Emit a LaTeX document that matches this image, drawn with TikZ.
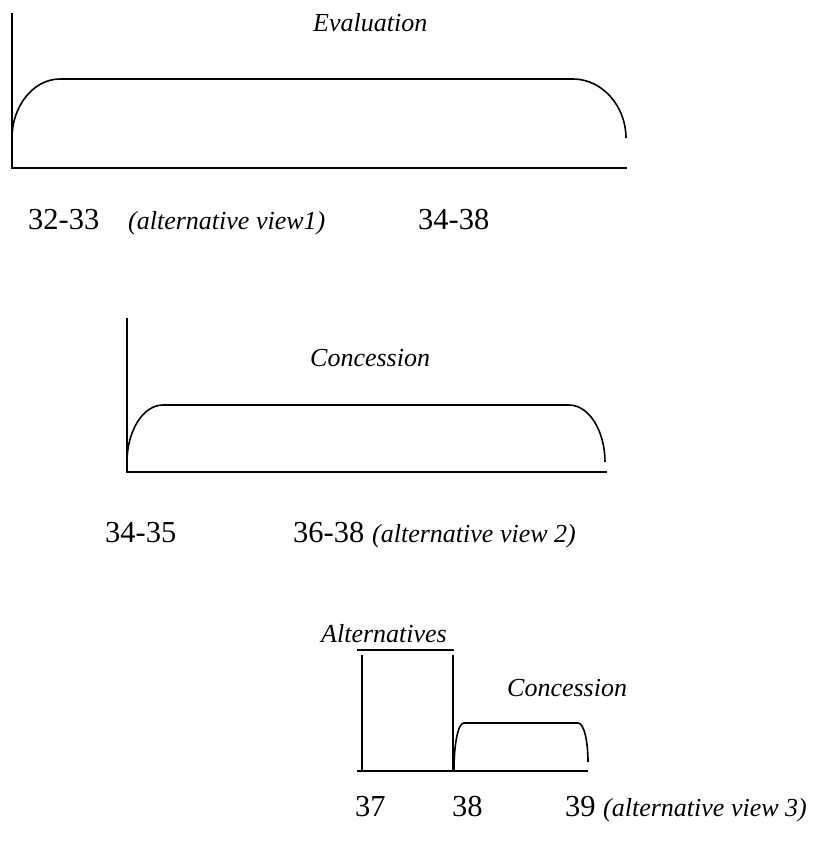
\documentclass[tikz,border=0pt]{standalone}
\usepackage{fontspec}
\setmainfont{Liberation Serif}
\begin{document}
\begin{tikzpicture}[x=1pt,y=-1pt,
  ln/.style={line width=1.6pt},
  num/.style={anchor=base west,inner sep=0pt,font=\fontsize{30.5}{36}\selectfont},
  lbl/.style={anchor=base west,inner sep=0pt,font=\fontsize{26}{30}\selectfont\itshape}]
\useasboundingbox (0,0) rectangle (820,841);
% Diagram 1
\draw[ln] (12,13) -- (12,168) -- (627,168);
\draw[ln] (12,138) .. controls (12,106) and (33.5,79) .. (60,79) -- (573,79)
  .. controls (602,79) and (626,106) .. (626,138);
\node[lbl] (eval) at (313,31) {Evaluation};
\node[num] (n1) at (28,229) {32-33};
\node[lbl] (av1) at (128,229) {(alternative view1)};
\node[num] (n2) at (418,229) {34-38};
% Diagram 2
\draw[ln] (127,318) -- (127,472) -- (607,472);
\draw[ln] (127,462) .. controls (127,431) and (143,405) .. (163,405) -- (569,405)
  .. controls (589,405) and (605,431) .. (605,462);
\node[lbl] (conc1) at (310,366) {Concession};
\node[num] (n3) at (105,542) {34-35};
\node[num] (n4) at (293,542) {36-38};
\node[lbl] (av2) at (372,542) {(alternative view 2)};
% Diagram 3
\draw[ln] (357,650) -- (454,650);
\draw[ln] (362,655) -- (362,771);
\draw[ln] (453,655) -- (453,771);
\draw[ln] (357,771) -- (588,771);
\draw[ln] (454,770) .. controls (454,744) and (458,723) .. (464,723) -- (578,723)
  .. controls (584,723) and (588,741) .. (588,762);
\node[lbl,anchor=base east] (alt) at (447,642) {Alternatives};
\node[lbl] (conc2) at (507,696) {Concession};
\node[num] (n5) at (355,816) {37};
\node[num] (n6) at (452,816) {38};
\node[num] (n7) at (565,816) {39};
\node[lbl] (av3) at (603,816) {(alternative view 3)};
\end{tikzpicture}
\end{document}
